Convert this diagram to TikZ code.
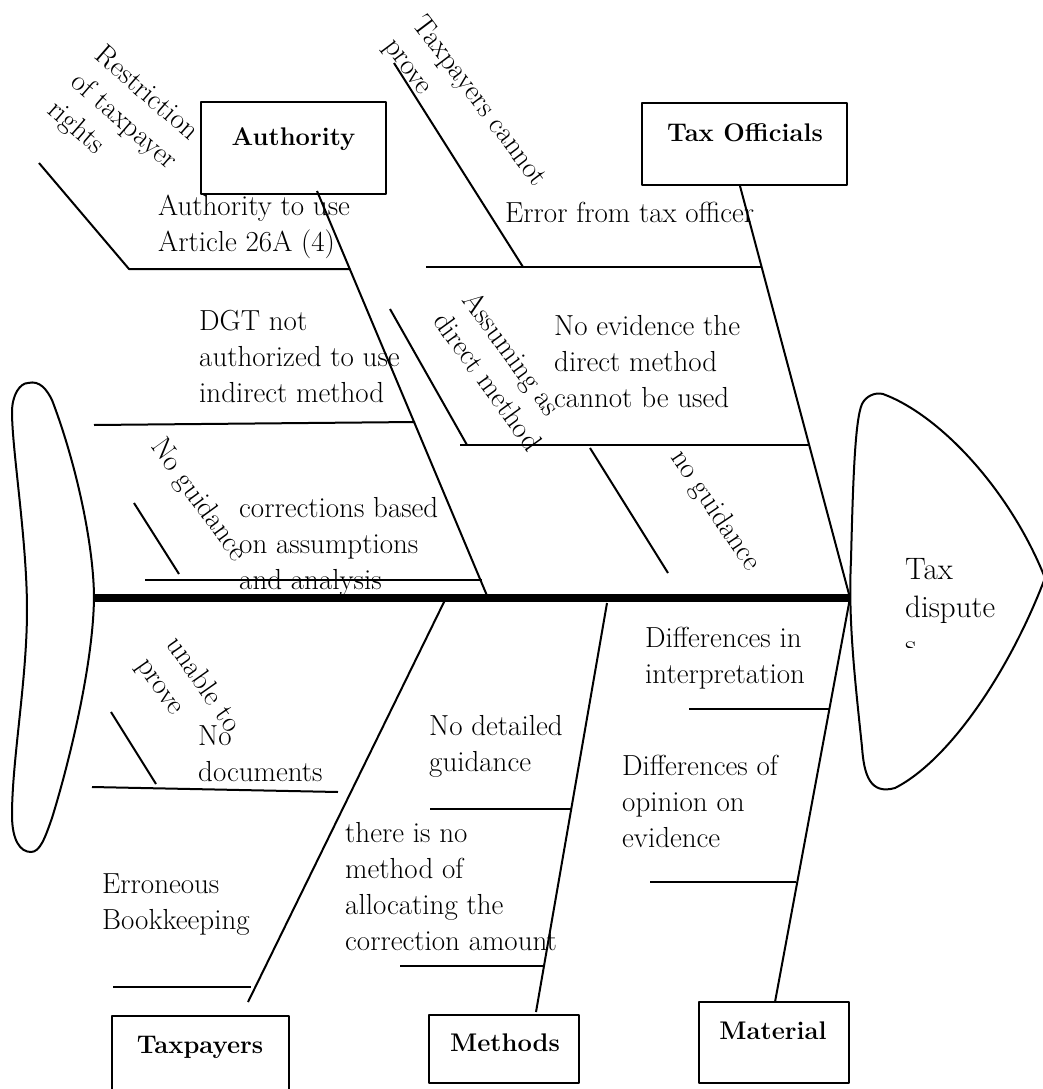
\documentclass[tikz,border=0pt]{standalone}
\usepackage{fontspec}
\begin{document}
\begin{tikzpicture}[x=1pt,y=-1pt,line join=round]
\tikzset{
  ln/.style={line width=2pt},
  spinestyle/.style={line width=8pt},
  outline/.style={line width=2pt},
  boxstyle/.style={draw,line width=2.6pt,fill=white,inner sep=0pt},
  txt/.style={font=\fontsize{29}{36}\selectfont,inner sep=0pt,align=left,anchor=base west},
  lbl/.style={font=\fontsize{25.5}{36}\selectfont\bfseries,inner sep=0pt,anchor=base},
}
\useasboundingbox (0,0) rectangle (1043,1089);

% tail
\draw[outline] (28,383) .. controls (40,380) and (47,390) .. (52,400)
  .. controls (75,460) and (93,540) .. (94,595)
  .. controls (94,660) and (70,760) .. (52,818)
  .. controls (45,838) and (40,852) .. (31,852)
  .. controls (20,852) and (12,840) .. (12,815)
  .. controls (12,760) and (27,680) .. (27,610)
  .. controls (27,540) and (12,450) .. (12,412)
  .. controls (12,395) and (20,383) .. (28,383) -- cycle;

% head
\draw[outline] (883,394) .. controls (940,415) and (1010,490) .. (1045,578)
  .. controls (1010,670) and (950,760) .. (895,788)
  .. controls (870,795) and (864,775) .. (862,747)
  .. controls (855,680) and (848,620) .. (851,560)
  .. controls (853,480) and (855,420) .. (862,404)
  .. controls (866,396) and (875,392) .. (883,394) -- cycle;
\begin{scope}
  \clip (880,540) rectangle (1010,647);
  \node[txt,font=\fontsize{31}{38}\selectfont] (head) at (905,655) {Tax\\dispute\\s};
\end{scope}

% spine
\coordinate (sp0) at (93,598);
\coordinate (sp1) at (851,598);
\draw[spinestyle] (sp0) -- (sp1);

% category boxes
\node[boxstyle,minimum width=185pt,minimum height=92pt] (auth) at (293.5,148) {};
\node[lbl] (authL) at (293.5,146) {Authority};
\node[boxstyle,minimum width=205pt,minimum height=82pt] (toff) at (744.5,144) {};
\node[lbl] (toffL) at (745,142) {Tax Officials};
\node[boxstyle,minimum width=177pt,minimum height=84pt] (tpay) at (200.5,1058) {};
\node[lbl] (tpayL) at (200,1053) {Taxpayers};
\node[boxstyle,minimum width=150pt,minimum height=68pt] (meth) at (504,1049) {};
\node[lbl] (methL) at (505,1051) {Methods};
\node[boxstyle,minimum width=150pt,minimum height=81pt] (mat) at (774,1042.5) {};
\node[lbl] (matL) at (773,1039) {Material};

% main bones
\coordinate (a0) at (317,191);  \coordinate (a1) at (488,598);
\coordinate (o0) at (740,186);  \coordinate (o1) at (850,598);
\coordinate (p0) at (445,600);  \coordinate (p1) at (248,1002);
\coordinate (m0) at (607,603);  \coordinate (m1) at (536,1012);
\coordinate (t0) at (850,598);  \coordinate (t1) at (775,1002);
\draw[ln] (a0) -- (a1);
\draw[ln] (o0) -- (o1);
\draw[ln] (p0) -- (p1);
\draw[ln] (m0) -- (m1);
\draw[ln] (t0) -- (t1);

% authority sub-bones
\coordinate (a2) at (39,163); \coordinate (a3) at (129,269); \coordinate (a4) at (350,269);
\draw[ln] (a2) -- (a3) -- (a4);
\coordinate (a5) at (94,425); \coordinate (a6) at (415,422);
\draw[ln] (a5) -- (a6);
\coordinate (a7) at (145,580); \coordinate (a8) at (482,580);
\draw[ln] (a7) -- (a8);
\coordinate (a9) at (134,503); \coordinate (a10) at (179,574);
\draw[ln] (a9) -- (a10);

% tax officials sub-bones
\coordinate (o2) at (394,63); \coordinate (o3) at (523,267);
\coordinate (o4) at (426,267); \coordinate (o5) at (762,267);
\draw[ln] (o2) -- (o3);
\draw[ln] (o4) -- (o5);
\coordinate (o6) at (390,309); \coordinate (o7) at (467,445);
\coordinate (o8) at (460,445); \coordinate (o9) at (809,445);
\draw[ln] (o6) -- (o7);
\draw[ln] (o8) -- (o9);
\coordinate (o10) at (590,448); \coordinate (o11) at (668,573);
\draw[ln] (o10) -- (o11);

% taxpayers sub-bones
\coordinate (p2) at (92,787); \coordinate (p3) at (338,792);
\draw[ln] (p2) -- (p3);
\coordinate (p4) at (111,712); \coordinate (p5) at (156,784);
\draw[ln] (p4) -- (p5);
\coordinate (p6) at (113,987); \coordinate (p7) at (251,987);
\draw[ln] (p6) -- (p7);

% methods sub-bones
\coordinate (m2) at (430,809); \coordinate (m3) at (571,809);
\draw[ln] (m2) -- (m3);
\coordinate (m4) at (400,966); \coordinate (m5) at (544,966);
\draw[ln] (m4) -- (m5);

% material sub-bones
\coordinate (t2) at (689,709); \coordinate (t3) at (829,709);
\draw[ln] (t2) -- (t3);
\coordinate (t4) at (650,882); \coordinate (t5) at (796,882);
\draw[ln] (t4) -- (t5);

% horizontal texts (anchor = baseline of the last line)
\node[txt] (x1) at (158,251) {Authority to use\\Article 26A (4)};
\node[txt] (x2) at (199,402) {DGT not\\authorized to use\\indirect method};
\node[txt] (x3) at (239,589) {corrections based\\on assumptions\\and analysis};
\node[txt] (x4) at (505,222) {Error from tax officer};
\node[txt] (x5) at (554,407) {No evidence the\\direct method\\cannot be used};
\node[txt] (x6) at (645,683) {Differences in\\interpretation};
\node[txt] (x7) at (622,847) {Differences of\\opinion on\\evidence};
\node[txt] (x8) at (429,771) {No detailed\\guidance};
\node[txt] (x9) at (345,950) {there is no\\method of\\allocating the\\correction amount};
\node[txt] (x10) at (102,929) {Erroneous\\Bookkeeping};
\node[txt] (x11) at (198,781) {No\\documents};

% rotated texts (anchor = start of the last line's baseline)
\node[txt,rotate=-41] (r1) at (46,112) {Restriction\\of taxpayer\\rights};
\node[txt,rotate=-53] (r2) at (383,46) {Taxpayers cannot\\prove};
\node[txt,rotate=-54] (r3) at (432,321) {Assuming as\\direct method};
\node[txt,rotate=-54] (r4) at (150,446) {No guidance};
\node[txt,rotate=-56] (r5) at (670,457) {no guidance};
\node[txt,rotate=-55] (r6) at (136,665) {unable to\\prove};
\end{tikzpicture}
\end{document}
